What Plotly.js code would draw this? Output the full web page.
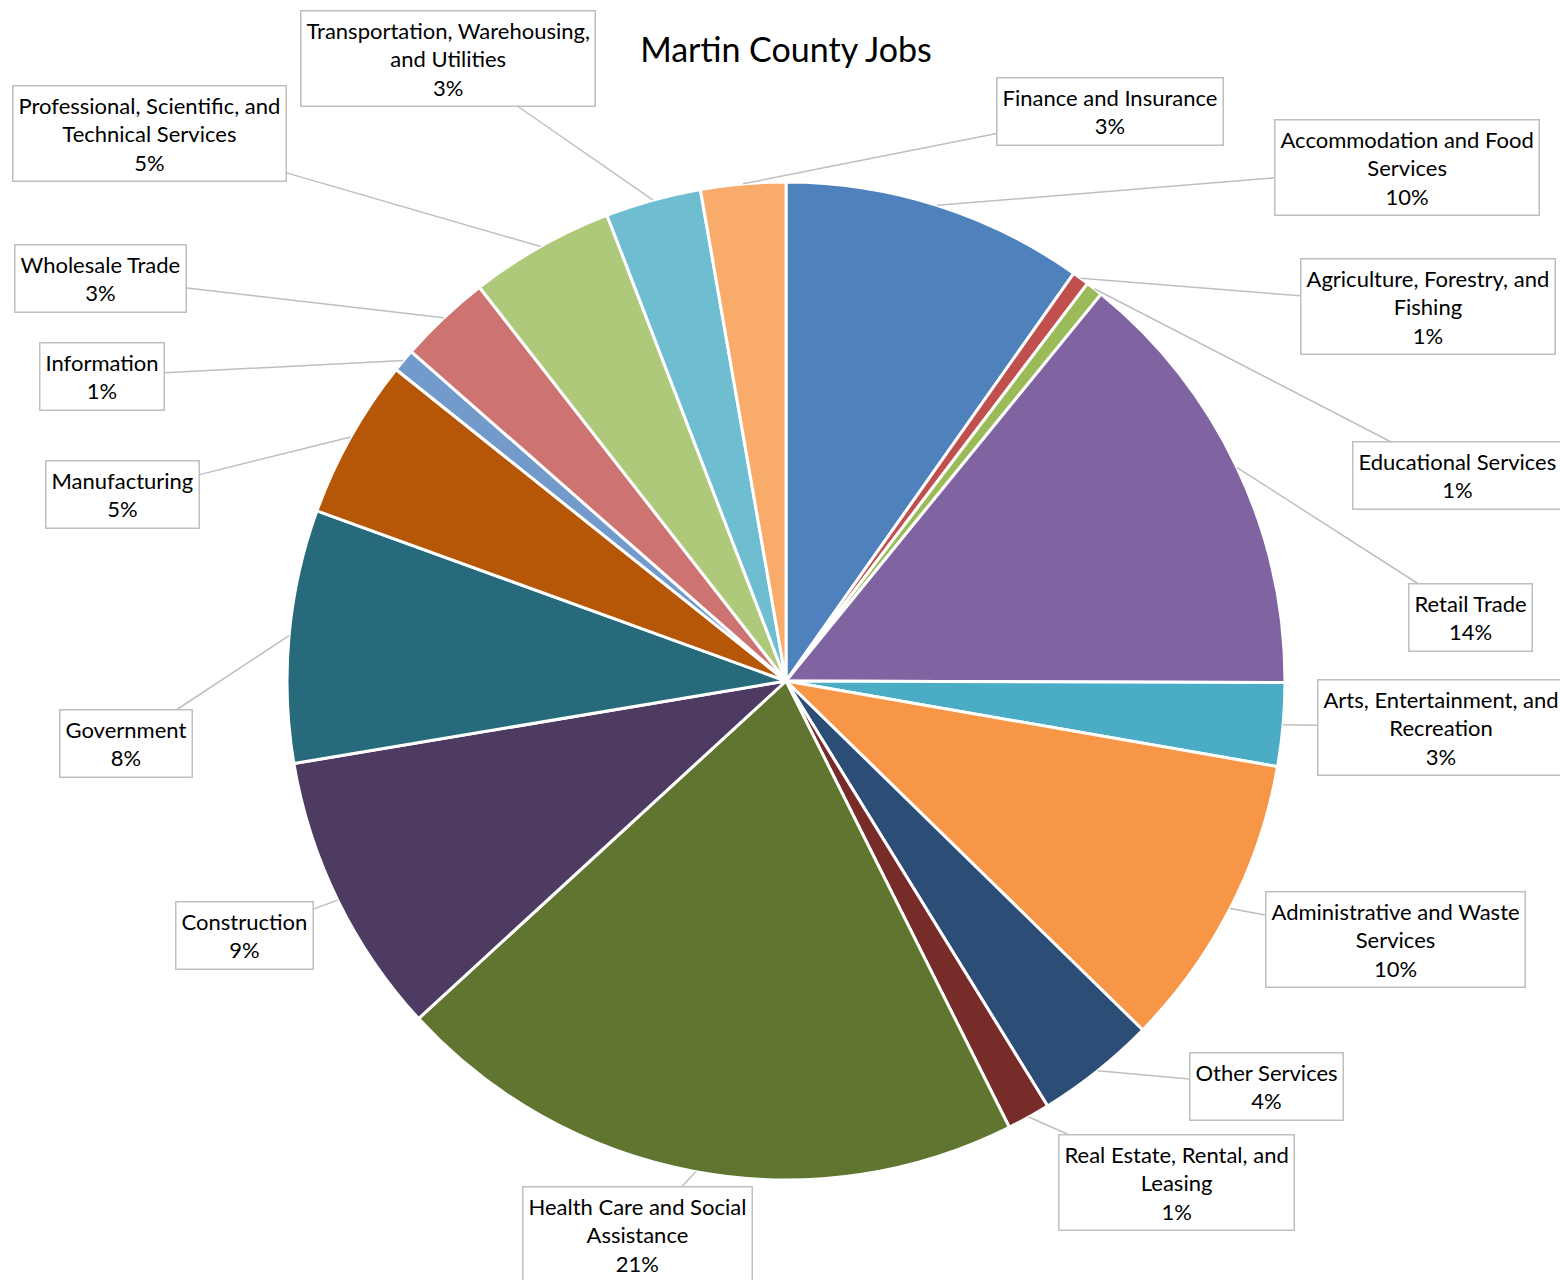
<!DOCTYPE html>
<html>
<head>
<meta charset="utf-8">
<script src="https://cdn.plot.ly/plotly-3.0.1.min.js"></script>
<style>html,body{margin:0;padding:0;background:#fff;}</style>
</head>
<body>
<div id="chart" style="width:1560px;height:1280px;"></div>
<script>
// ---- data ----
const categories = [
  "Accommodation and Food Services",
  "Agriculture, Forestry, and Fishing",
  "Educational Services",
  "Retail Trade",
  "Arts, Entertainment, and Recreation",
  "Administrative and Waste Services",
  "Other Services",
  "Real Estate, Rental, and Leasing",
  "Health Care and Social Assistance",
  "Construction",
  "Government",
  "Manufacturing",
  "Information",
  "Wholesale Trade",
  "Professional, Scientific, and Technical Services",
  "Transportation, Warehousing, and Utilities",
  "Finance and Insurance"
];
const shares = [9.8, 0.55, 0.55, 14.2, 2.7, 9.6, 3.9, 1.4, 20.6, 9.2, 8.2, 5.2, 0.75, 3.0, 4.7, 3.1, 2.75];
const displayLabels = [
  "Accommodation and Food<br>Services",
  "Agriculture, Forestry, and<br>Fishing",
  "Educational Services",
  "Retail Trade",
  "Arts, Entertainment, and<br>Recreation",
  "Administrative and Waste<br>Services",
  "Other Services",
  "Real Estate, Rental, and<br>Leasing",
  "Health Care and Social<br>Assistance",
  "Construction",
  "Government",
  "Manufacturing",
  "Information",
  "Wholesale Trade",
  "Professional, Scientific, and<br>Technical Services",
  "Transportation, Warehousing,<br>and Utilities",
  "Finance and Insurance"
];
const colors = ["#4F81BD","#C0504D","#9BBB59","#8064A2","#4BACC6","#F79646",
                "#2C4D75","#772C2A","#5F7530","#4D3B62","#276A7C","#B65708",
                "#729ACA","#CD7371","#AFC97A","#6FBDD1","#F9AB6B"];

// ---- layout geometry (pixels) ----
const W = 1560, H = 1280;
const CX = 786, CY = 681, R = 499;
// label box centers (pixels)
const boxPos = [
  [1407,167],[1428,306],[1457,476],[1470,617],[1441,727],[1395,939],
  [1266,1086],[1176,1182],[637,1234],[244,935],[126,743],[122,494],
  [102,376],[101,278],[149,133],[448,58],[1110,111]
];

const total = shares.reduce((a,b)=>a+b,0);
const annotations = [];
let cum = 0;
shares.forEach((v,i)=>{
  const mid = (cum + v/2)/total*2*Math.PI;
  cum += v;
  const hx = CX + R*Math.sin(mid);
  const hy = CY - R*Math.cos(mid);
  const pct = Math.round(v/total*100);
  annotations.push({
    xref:'paper', yref:'paper',
    x: hx/W, y: 1 - hy/H,
    ax: boxPos[i][0]-hx, ay: boxPos[i][1]-hy,
    text: displayLabels[i] + '<br>' + pct + '%',
    showarrow:true, arrowhead:0, arrowwidth:1.5, arrowcolor:'#BFBFBF', standoff:0,
    bordercolor:'#BFBFBF', borderwidth:1.5, borderpad:5, bgcolor:'#ffffff',
    font:{family:'Lato, "Open Sans", sans-serif', size:22, color:'#000'},
    align:'center'
  });
});

const trace = {
  type:'pie',
  labels: categories,
  values: shares,
  sort:false,
  direction:'clockwise',
  rotation:0,
  textinfo:'none',
  hoverinfo:'label+percent',
  marker:{colors:colors, line:{color:'#ffffff', width:3}},
  domain:{x:[(CX-R)/W,(CX+R)/W], y:[1-(CY+R)/H, 1-(CY-R)/H]},
  showlegend:false
};

const layout = {
  width:W, height:H,
  margin:{l:0,r:0,t:0,b:0},
  paper_bgcolor:'#ffffff',
  showlegend:false,
  title:{text:'Martin County Jobs', x:CX/W, xref:'paper', xanchor:'center',
         y:1-50/H, yref:'container', yanchor:'middle',
         font:{family:'Lato, "Open Sans", sans-serif', size:34, color:'#000'}},
  annotations: annotations
};

Plotly.newPlot('chart',[trace],layout,{displayModeBar:false, staticPlot:true});
</script>
</body>
</html>
